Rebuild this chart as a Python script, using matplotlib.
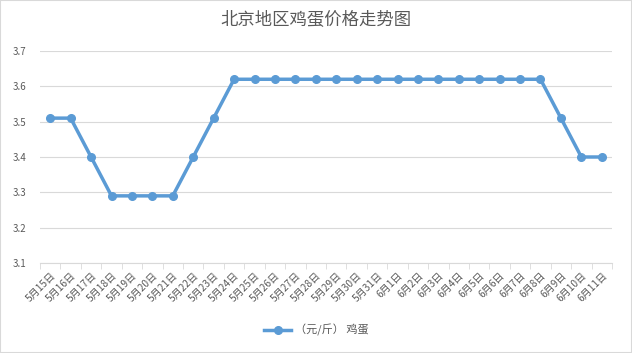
import matplotlib
matplotlib.use("Agg")
import matplotlib.pyplot as plt
import numpy as np

plt.rcParams['font.family'] = ['Noto Sans CJK SC', 'DejaVu Sans']

dates = ["5月15日", "5月16日", "5月17日", "5月18日", "5月19日", "5月20日", "5月21日",
         "5月22日", "5月23日", "5月24日", "5月25日", "5月26日", "5月27日", "5月28日",
         "5月29日", "5月30日", "5月31日", "6月1日", "6月2日", "6月3日", "6月4日",
         "6月5日", "6月6日", "6月7日", "6月8日", "6月9日", "6月10日", "6月11日"]
prices = [3.51, 3.51, 3.40, 3.29, 3.29, 3.29, 3.29,
          3.40, 3.51, 3.62, 3.62, 3.62, 3.62, 3.62,
          3.62, 3.62, 3.62, 3.62, 3.62, 3.62, 3.62,
          3.62, 3.62, 3.62, 3.62, 3.51, 3.40, 3.40]
yticks = [3.1, 3.2, 3.3, 3.4, 3.5, 3.6, 3.7]

grey = "#595959"
line_c = "#d9d9d9"

fig = plt.figure(figsize=(6.32, 3.53), dpi=100)
ax = fig.add_axes([40/632, 1-263/353, 572/632, 212/353])

x = np.arange(len(dates))
ax.plot(x, prices, color="#5b9bd5", lw=2.5, marker="o", ms=5.5, label="（元/斤） 鸡蛋",
        clip_on=False)

ax.set_xlim(-0.5, len(dates) - 0.5)
ax.set_ylim(3.1, 3.7)
ax.set_yticks(yticks)
ax.set_yticklabels([f"{v:.1f}" for v in yticks], color=grey, fontsize=7)
ax.grid(axis="y", color=line_c, lw=0.8)
ax.set_axisbelow(True)

ax.set_xticks(x)
ax.set_xticklabels(dates, rotation=45, ha="right", va="top", rotation_mode="anchor",
                   color=grey, fontsize=7.3)
ax.set_xticks(np.arange(-0.5, len(dates)), minor=True)
ax.tick_params(axis="x", which="major", length=0, pad=5)
ax.tick_params(axis="x", which="minor", length=4, color=line_c)
ax.tick_params(axis="y", length=0, pad=10)

for s in ["top", "right", "left"]:
    ax.spines[s].set_visible(False)
ax.spines["bottom"].set_color(line_c)

fig.text(0.5, 1 - 20/353, "北京地区鸡蛋价格走势图", ha="center", va="center",
         fontsize=12.5, color=grey)
fig.legend(loc="center", bbox_to_anchor=(0.5, 1 - 330/353), frameon=False,
           fontsize=8, labelcolor=grey, handlelength=2.5, handletextpad=0.3)

fig.patches.append(plt.Rectangle((0, 0), 1, 1, transform=fig.transFigure, fill=False,
                                 edgecolor=line_c, lw=1.5))

fig.savefig("out.png", dpi=100)
